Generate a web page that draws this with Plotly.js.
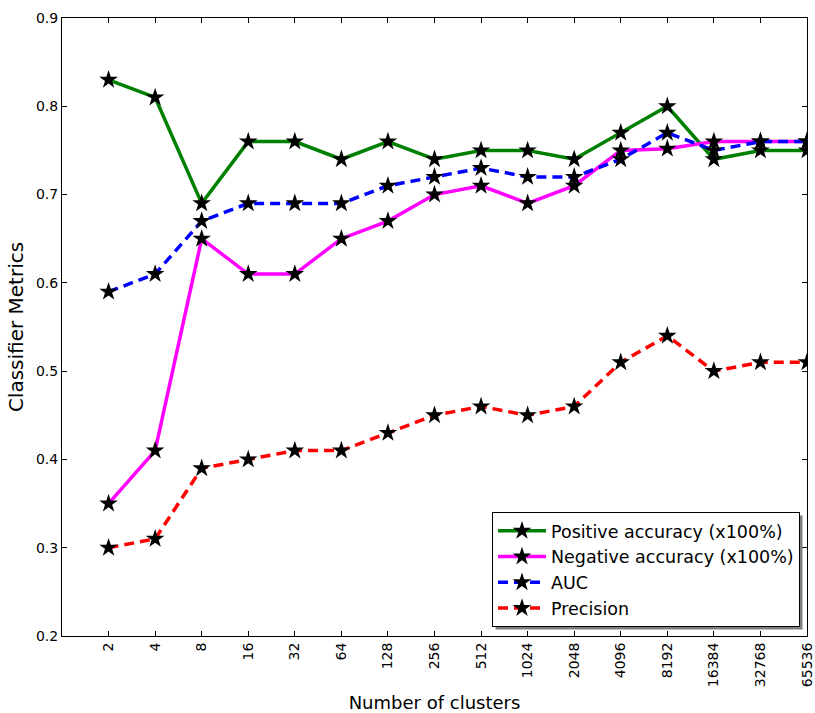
<!DOCTYPE html>
<html>
<head>
<meta charset="utf-8">
<script src="https://cdn.plot.ly/plotly-3.0.1.min.js"></script>
<style>html,body{margin:0;padding:0;background:#fff;}#chart{width:815px;height:713px;}</style>
</head>
<body>
<div id="chart"></div>
<script>
const clusters = ["2","4","8","16","32","64","128","256","512","1024","2048","4096","8192","16384","32768","65536"];
const positiveAccuracy = [0.83,0.81,0.69,0.76,0.76,0.74,0.76,0.74,0.75,0.75,0.74,0.77,0.80,0.74,0.75,0.75];
const negativeAccuracy = [0.35,0.41,0.65,0.61,0.61,0.65,0.67,0.70,0.71,0.69,0.71,0.75,0.752,0.76,0.76,0.76];
const auc = [0.59,0.61,0.67,0.69,0.69,0.69,0.71,0.72,0.73,0.72,0.72,0.74,0.77,0.75,0.76,0.76];
const precision = [0.30,0.31,0.39,0.40,0.41,0.41,0.43,0.45,0.46,0.45,0.46,0.51,0.54,0.50,0.51,0.51];
const yTicks = [0.2,0.3,0.4,0.5,0.6,0.7,0.8,0.9];

const marker = {symbol:'star', size:14, color:'black', line:{width:0}};
function tr(name, y, color, dash){
  return {x: clusters, y: y, name: name, type:'scatter', mode:'lines+markers',
    line:{color:color, width:3.5, dash:dash}, marker: marker};
}
const data = [
  tr('Positive accuracy (x100%)', positiveAccuracy, '#008000', 'solid'),
  tr('Negative accuracy (x100%)', negativeAccuracy, '#ff00ff', 'solid'),
  tr('AUC', auc, '#0000ff', '10px,6px'),
  tr('Precision', precision, '#ff0000', '10px,6px')
];
const font = {family:'DejaVu Sans, sans-serif', color:'#000'};
const layout = {
  width:815, height:713,
  margin:{l:62, r:8, t:18, b:77},
  paper_bgcolor:'#fff', plot_bgcolor:'#fff',
  font: Object.assign({size:14}, font),
  showlegend:true,
  xaxis:{type:'category', range:[-1,15], showgrid:false, zeroline:false,
    showline:true, linecolor:'#000', linewidth:1, mirror:'ticks',
    ticks:'inside', ticklen:5, tickcolor:'#000', tickangle:-90,
    tickfont:Object.assign({size:14}, font),
    title:{text:'Number of clusters', font:Object.assign({size:18}, font), standoff:10}},
  yaxis:{range:[0.2,0.9], tickvals:yTicks, ticktext:yTicks.map(v=>v.toFixed(1)),
    showgrid:false, zeroline:false, showline:true, linecolor:'#000', linewidth:1,
    mirror:'ticks', ticks:'inside', ticklen:5, tickcolor:'#000',
    tickfont:Object.assign({size:14}, font),
    title:{text:'Classifier Metrics', font:Object.assign({size:20}, font), standoff:6}},
  legend:{x:0.9906, y:0.0146, xanchor:'right', yanchor:'bottom',
    bgcolor:'#fff', bordercolor:'#000', borderwidth:1,
    font:Object.assign({size:17.5}, font), tracegroupgap:0, itemwidth:48},
  shapes:[]
};
Plotly.newPlot('chart', data, layout, {displayModeBar:false, staticPlot:true}).then(function(gd){
  const lg = gd.querySelector('.legend .bg');
  if(lg){
    const bb = gd.querySelector('.legend').getBoundingClientRect();
    const pb = gd.getBoundingClientRect();
    const fl = gd._fullLayout;
    const x0 = (bb.left - pb.left + 3 - fl._size.l)/fl._size.w;
    const x1 = (bb.right - pb.left + 3 - fl._size.l)/fl._size.w;
    const y1 = 1 - (bb.top - pb.top + 3 - fl._size.t)/fl._size.h;
    const y0 = 1 - (bb.bottom - pb.top + 3 - fl._size.t)/fl._size.h;
    Plotly.relayout(gd, {shapes:[{type:'rect', xref:'paper', yref:'paper', x0:x0, x1:x1, y0:y0, y1:y1,
      fillcolor:'#7f7f7f', line:{width:0}, layer:'above'}]});
  }
});
</script>
</body>
</html>
